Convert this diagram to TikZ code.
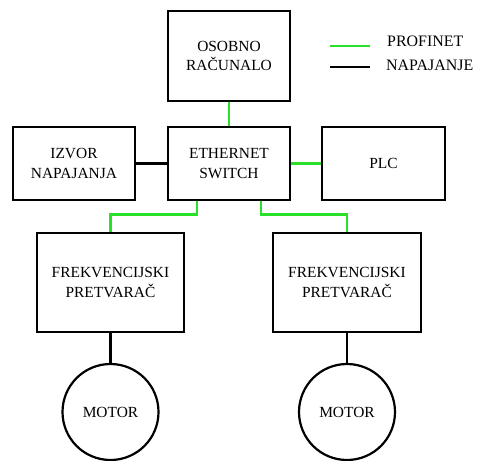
\documentclass[tikz,border=0pt]{standalone}
\usepackage{fontspec}
\setmainfont{Liberation Serif}
\newfontfamily\tnr{Liberation Serif}
\definecolor{netgreen}{RGB}{40,225,40}
\begin{document}
\begin{tikzpicture}[x=1bp,y=-1bp,
  boxnode/.style={draw=black,line width=2.2bp,rectangle,inner sep=0pt,align=center,
    font=\tnr\fontsize{15.5}{19.5}\selectfont},
  motornode/.style={draw=black,line width=2.2bp,circle,inner sep=0pt,minimum size=96bp,
    font=\tnr\fontsize{15.5}{19.5}\selectfont},
  netline/.style={draw=netgreen,line width=2.4bp},
  pwrline/.style={draw=black,line width=2.2bp},
  legtext/.style={anchor=base west,inner sep=0pt,font=\tnr\fontsize{16}{19}\selectfont}]
\useasboundingbox[fill=white] (0,0) rectangle (477,461);
\node[boxnode,minimum width=122bp,minimum height=90bp] (pc) at (229,56) {OSOBNO\\RAČUNALO};
\node[boxnode,minimum width=122bp,minimum height=73bp] (sw) at (229,163.5) {ETHERNET\\SWITCH};
\node[boxnode,minimum width=122bp,minimum height=73bp] (izv) at (74,163.5) {IZVOR\\NAPAJANJA};
\node[boxnode,minimum width=123bp,minimum height=73bp] (plc) at (383.5,163.5) {PLC};
\node[boxnode,minimum width=147bp,minimum height=99bp] (d1) at (110.5,282.5) {FREKVENCIJSKI\\PRETVARAČ};
\node[boxnode,minimum width=148bp,minimum height=99bp] (d2) at (347,282.5) {FREKVENCIJSKI\\PRETVARAČ};
\node[motornode] (m1) at (110.5,412) {MOTOR};
\node[motornode] (m2) at (347,412) {MOTOR};
% connectors
\draw[netline] (pc.south) -- (sw.north);
\draw[pwrline] (izv.east) -- (sw.west);
\draw[netline] (sw.east) -- (plc.west);
\draw[netline] ([xshift=-32bp]sw.south) -- ++(0,13.5) -| (d1.north);
\draw[netline] ([xshift=32bp]sw.south) -- ++(0,13.5) -| (d2.north);
\draw[pwrline] (d1.south) -- (m1.north);
\draw[pwrline] (d2.south) -- (m2.north);
% legend
\coordinate (lga) at (330,46);
\coordinate (lgb) at (370,46);
\coordinate (lgc) at (330,67);
\coordinate (lgd) at (370,67);
\draw[netline] (lga) -- (lgb);
\draw[pwrline] (lgc) -- (lgd);
\node[legtext] (lt1) at (387,47) {PROFINET};
\node[legtext] (lt2) at (386,71) {NAPAJANJE};
\end{tikzpicture}
\end{document}
